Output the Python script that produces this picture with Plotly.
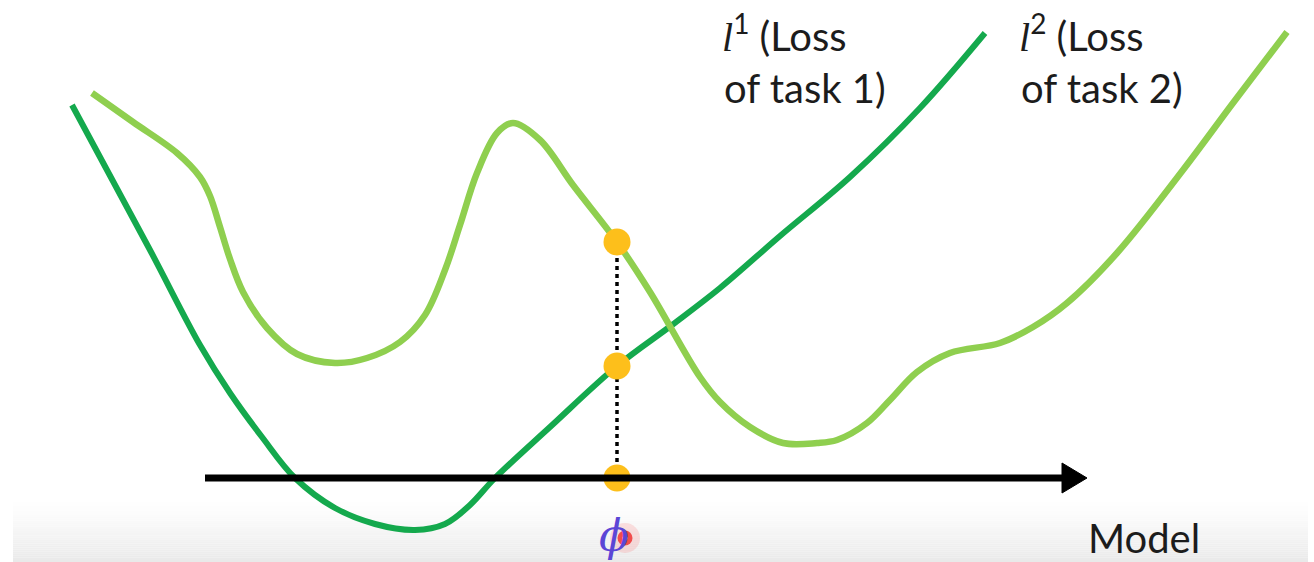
import numpy as np
import plotly.graph_objects as go

# Model parameter positions and loss values for the two tasks
model_l1 = [72, 150, 200, 230, 262, 295, 335, 375, 415, 445, 470, 495, 550,
            617, 672, 720, 780, 850, 920, 985]
loss_l1 = [457, 312, 217, 169, 125, 84, 54, 38, 32, 38, 57, 84, 135,
           196, 237, 274, 326, 385, 454, 529]

model_l2 = [92, 133, 177, 200, 210, 220, 230, 243, 267, 297, 335, 367, 400,
            425, 445, 460, 477, 497, 513, 540, 573, 617, 650, 700, 720, 750, 783,
            817, 837, 867, 890, 917, 950, 1000, 1033, 1067, 1117, 1183, 1233, 1287]
loss_l2 = [469, 440, 409, 385, 366, 335, 303, 270, 234, 208, 199, 204, 220,
           247, 292, 337, 389, 429, 439, 422, 377, 320, 270, 185, 160, 135, 119,
           119, 122, 139, 162, 190, 209, 219, 235, 259, 309, 392, 459, 530]

# Shared model phi and the model axis
phi = 617
axis_level = 84
axis_start, axis_end = 205, 1087

W, H = 1314, 562
DARK_GREEN = "#14a94d"
LIGHT_GREEN = "#8fcf4f"
GOLD = "#fdbf1b"
TEXT = "#1c1c1c"
FONT = "Lato"

fig = go.Figure()

# soft grey band along the bottom edge
band_top, band_bottom = 62, 0
steps = 30
for i in range(steps):
    y0 = band_top - (band_top - band_bottom) * i / steps
    y1 = band_top - (band_top - band_bottom) * (i + 1) / steps
    g = int(round(255 - 22 * ((i + 1) / steps) ** 1.3))
    fig.add_shape(type="rect", x0=13, x1=1308, y0=y1, y1=y0,
                  fillcolor=f"rgb({g},{g},{g})", line_width=0, layer="below")

# model axis with arrow head
fig.add_shape(type="line", x0=axis_start, x1=axis_end - 22, y0=axis_level, y1=axis_level,
              line=dict(color="black", width=7))
fig.add_shape(type="path",
              path=f"M {axis_end - 25} {axis_level + 15} L {axis_end} {axis_level} "
                   f"L {axis_end - 25} {axis_level - 15} Z",
              fillcolor="black", line=dict(color="black", width=1))

# loss curves
fig.add_trace(go.Scatter(x=model_l1, y=loss_l1, mode="lines",
                         line=dict(color=DARK_GREEN, width=6, shape="spline", smoothing=1.0),
                         hoverinfo="skip"))
fig.add_trace(go.Scatter(x=model_l2, y=loss_l2, mode="lines",
                         line=dict(color=LIGHT_GREEN, width=6.5, shape="spline", smoothing=1.0),
                         hoverinfo="skip"))

# losses of both tasks at phi
l1_phi = float(np.interp(phi, model_l1, loss_l1))
l2_phi = float(np.interp(phi, model_l2, loss_l2))

fig.add_trace(go.Scatter(x=[phi, phi], y=[axis_level, l2_phi], mode="lines",
                         line=dict(color="black", width=3.5, dash="4px,4px"),
                         hoverinfo="skip"))
fig.add_trace(go.Scatter(x=[phi, phi, phi], y=[l2_phi, l1_phi, axis_level], mode="markers",
                         marker=dict(color=GOLD, size=27, line=dict(width=0)),
                         hoverinfo="skip"))

# phi label with a red pointer highlight
fig.add_annotation(x=phi - 3, y=27, text="<i>ϕ</i>", showarrow=False,
                   font=dict(family="DejaVu Serif", size=44, color="#5b46d6"),
                   xanchor="center", yanchor="middle")
fig.add_trace(go.Scatter(x=[phi + 8] * 3, y=[24] * 3, mode="markers",
                         marker=dict(color=["rgba(255,60,60,0.2)", "#f01010", "white"],
                                     size=[30, 15, 5], line=dict(width=0)),
                         hoverinfo="skip"))

# curve labels
def label(x, y, txt):
    fig.add_annotation(x=x, y=y, text=txt, showarrow=False, xanchor="left",
                       yanchor="middle", font=dict(family=FONT, size=40, color=TEXT))

ell = "<span style=\"font-family:'Liberation Serif'\"><i>l</i></span>"
label(720, 529, f"{ell}<sup>1</sup> (Loss")
label(722, 474, "of task 1)")
label(1017, 529, f"{ell}<sup>2</sup> (Loss")
label(1019, 474, "of task 2)")
label(1086, 24, "Model")

fig.update_layout(
    width=W, height=H, margin=dict(l=0, r=0, t=0, b=0),
    paper_bgcolor="white", plot_bgcolor="white", showlegend=False,
    xaxis=dict(range=[0, W], visible=False, fixedrange=True),
    yaxis=dict(range=[0, H], visible=False, fixedrange=True),
)

fig.write_html("out.html")
